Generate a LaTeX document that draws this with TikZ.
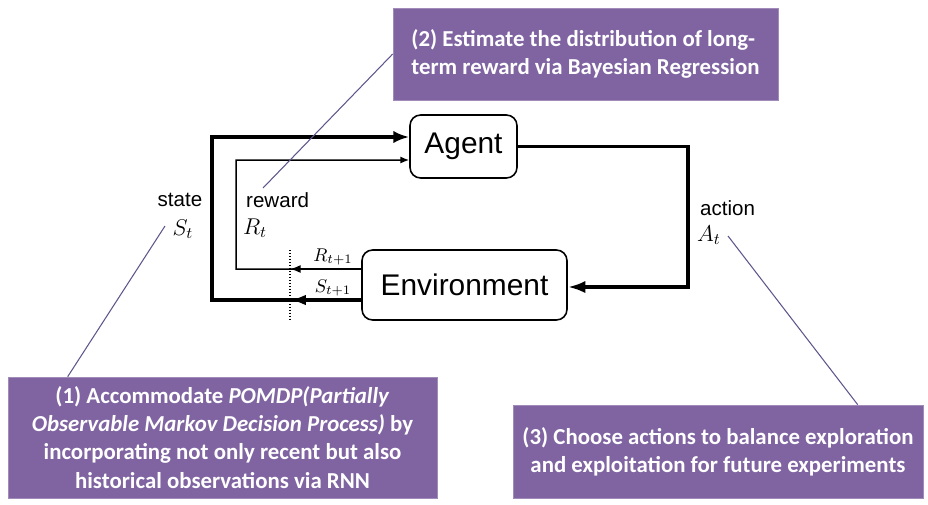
\documentclass[tikz,border=0pt]{standalone}
\usepackage{fix-cm}
\usepackage{fontspec}
\setmainfont{Liberation Sans}
\newfontfamily\notefont{Carlito}
\usetikzlibrary{arrows.meta,calc}
\definecolor{notepurple}{RGB}{128,100,162}
\definecolor{calloutline}{RGB}{95,85,140}

\begin{document}
\begin{tikzpicture}[x=0.02cm,y=-0.02cm,font=\fontsize{11.7}{14}\selectfont]
    \tikzstyle{block}=[rectangle,draw,rounded corners=6pt,line width=0.9pt,font=\fontsize{17}{20}\selectfont]
    \tikzstyle{note}=[rectangle,fill=notepurple,draw=notepurple!75!white,text=white,inner sep=0pt,font=\notefont\bfseries\fontsize{13}{16}\selectfont]
    \tikzstyle{bigflow}=[line width=2pt]
    \tikzstyle{smallflow}=[line width=0.85pt]
    \tikzstyle{callout}=[draw=calloutline,line width=0.6pt]
    \tikzstyle{mathlbl}=[inner sep=1pt,font=\fontsize{13}{15}\selectfont]
    \tikzstyle{sublbl}=[inner sep=1pt,font=\fontsize{10.5}{12}\selectfont]
    \useasboundingbox (0,0) rectangle (928,504);
    \node [block,minimum width=2.14cm,minimum height=1.26cm] (agent) at (463.5,146.5) {Agent};
    \node [block,minimum width=4.1cm,minimum height=1.4cm] (env) at (464.5,285) {Environment};
    \coordinate (sout) at ($(env.west)+(0,15)$);
    \coordinate (rout) at ($(env.west)+(0,-16)$);
    \coordinate (sin) at ($(agent.west)+(0,-9.5)$);
    \coordinate (rin) at ($(agent.west)+(0,13.5)$);
    \coordinate (sbend) at (212,137);
    \coordinate (rbend) at (236,160);
    \coordinate (abend) at (688,287);
    \coordinate (cuttop) at (290,250);
    \coordinate (cutbot) at (290,320);
    \draw [bigflow,-{Latex[length=9pt,width=7pt]}] (sout) -| (sbend) -- (sin);
    \draw [smallflow,-{Latex[length=5pt,width=4pt]}] (rout) -| (rbend) -- (rin);
    \draw [bigflow,-{Latex[length=9pt,width=6pt]}] (sout) -- (sout -| cutbot);
    \draw [smallflow,-{Latex[length=6pt,width=4.5pt]}] (rout) -- (rout -| cutbot);
    \draw [bigflow,-{Latex[length=10pt,width=7pt]}] (agent.east) -| (abend) -- (abend -| env.east);
    \draw [densely dotted,line width=0.7pt] (cuttop) -- (cutbot);
    \node (statelbl) at (180,200) {state};
    \node [mathlbl] (st) at (183,229) {$S_t$};
    \node [anchor=west] (rewardlbl) at (240,200) {reward};
    \node [mathlbl,anchor=west] (rt) at (241,228) {$R_t$};
    \node [anchor=west] (actionlbl) at (694,208) {action};
    \node [mathlbl,anchor=west] (at) at (695,235) {$A_t$};
    \node [sublbl] (rnext) at (333,257) {$R_{t+1}$};
    \node [sublbl] (snext) at (333,288) {$S_{t+1}$};
    \node [note,minimum width=7.7cm,minimum height=1.84cm,align=left] (note2) at (585.5,54) {(2) Estimate the distribution of long-\\term reward via Bayesian Regression};
    \node [note,minimum width=8.58cm,minimum height=2.42cm,align=center] (note1) at (222.5,437.5) {(1) Accommodate \textit{POMDP(Partially}\\\textit{Observable Markov Decision Process)} by\\incorporating not only recent but also\\historical observations via RNN};
    \node [note,minimum width=8.2cm,minimum height=1.86cm,align=center] (note3) at (718,451.5) {(3) Choose actions to balance exploration\\and exploitation for future experiments};
    \coordinate (rewardtip) at (263,188);
    \coordinate (sttip) at (165,226);
    \coordinate (attip) at (728,236);
    \draw [callout] (rewardtip) -- (note2.west);
    \draw [callout] (sttip) -- ($(note1.north west)+(60,0)$);
    \draw [callout] (attip) -- ($(note3.north west)+(345,0)$);
\end{tikzpicture}
\end{document}
